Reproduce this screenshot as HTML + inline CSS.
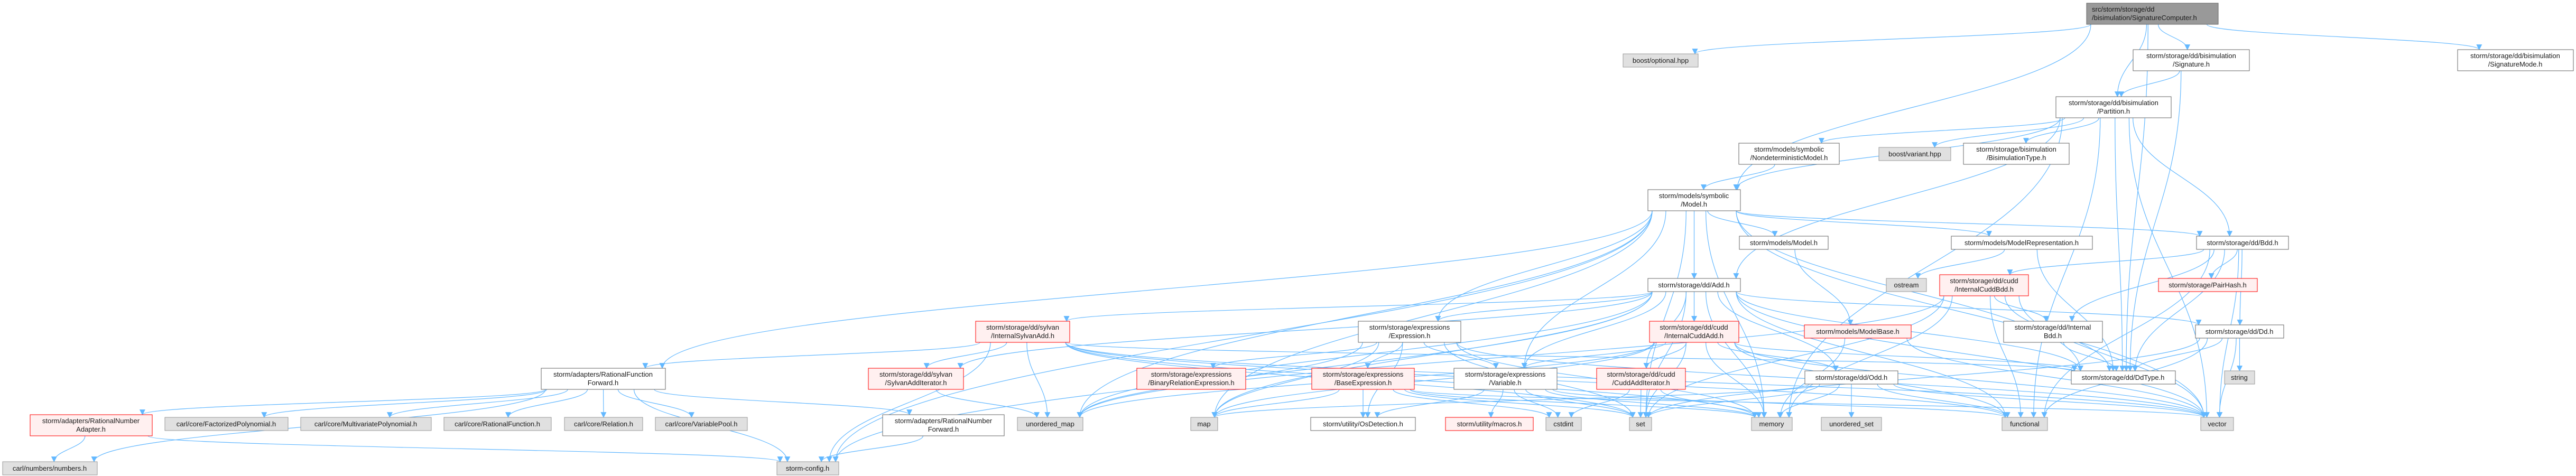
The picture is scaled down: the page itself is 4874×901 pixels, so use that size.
<!DOCTYPE html>
<html><head><meta charset="utf-8">
<style>
html,body{margin:0;padding:0;background:#fff;}
svg{display:block;}
text{font-family:"Liberation Sans",sans-serif;font-size:13px;fill:#1a1a1a;}
</style></head>
<body>
<svg id="g" width="4874" height="901" viewBox="0 0 4874 901" xmlns="http://www.w3.org/2000/svg">
<defs>
<marker id="ah" viewBox="0 0 10 10" refX="9" refY="5" markerWidth="11" markerHeight="11" markerUnits="userSpaceOnUse" orient="auto">
<path d="M0,0 L10,5 L0,10 z" fill="#63b8ff"/>
</marker>
</defs>
<g id="edges" fill="none" stroke="#63b8ff" stroke-width="1.2"></g>
<g id="nodes">
<rect x="3948" y="6" width="249" height="40" fill="#999" stroke="#666"/><text x="3958" y="22">src/storm/storage/dd</text><text x="3958" y="38">/bisimulation/SignatureComputer.h</text>
<rect x="4036" y="94" width="220" height="40" fill="#fff" stroke="#666"/><text x="4146" y="110" text-anchor="middle">storm/storage/dd/bisimulation</text><text x="4146" y="126" text-anchor="middle">/Signature.h</text>
<rect x="4650" y="94" width="219" height="40" fill="#fff" stroke="#666"/><text x="4759" y="110" text-anchor="middle">storm/storage/dd/bisimulation</text><text x="4759" y="126" text-anchor="middle">/SignatureMode.h</text>
<rect x="3071" y="102" width="142" height="25" fill="#e0e0e0" stroke="#999"/><text x="3142" y="119" text-anchor="middle">boost/optional.hpp</text>
<rect x="3890" y="183" width="218" height="40" fill="#fff" stroke="#666"/><text x="3999" y="199" text-anchor="middle">storm/storage/dd/bisimulation</text><text x="3999" y="215" text-anchor="middle">/Partition.h</text>
<rect x="3290" y="271" width="190" height="40" fill="#fff" stroke="#666"/><text x="3385" y="287" text-anchor="middle">storm/models/symbolic</text><text x="3385" y="303" text-anchor="middle">/NondeterministicModel.h</text>
<rect x="3555" y="279" width="136" height="25" fill="#e0e0e0" stroke="#999"/><text x="3623" y="296" text-anchor="middle">boost/variant.hpp</text>
<rect x="3715" y="271" width="200" height="40" fill="#fff" stroke="#666"/><text x="3815" y="287" text-anchor="middle">storm/storage/bisimulation</text><text x="3815" y="303" text-anchor="middle">/BisimulationType.h</text>
<rect x="3118" y="359" width="175" height="40" fill="#fff" stroke="#666"/><text x="3205" y="375" text-anchor="middle">storm/models/symbolic</text><text x="3205" y="391" text-anchor="middle">/Model.h</text>
<rect x="3291" y="447" width="168" height="25" fill="#fff" stroke="#666"/><text x="3375" y="464" text-anchor="middle">storm/models/Model.h</text>
<rect x="3692" y="447" width="267" height="25" fill="#fff" stroke="#666"/><text x="3825" y="464" text-anchor="middle">storm/models/ModelRepresentation.h</text>
<rect x="4156" y="447" width="174" height="25" fill="#fff" stroke="#666"/><text x="4243" y="464" text-anchor="middle">storm/storage/dd/Bdd.h</text>
<rect x="3118" y="527" width="175" height="25" fill="#fff" stroke="#666"/><text x="3205" y="544" text-anchor="middle">storm/storage/dd/Add.h</text>
<rect x="3569" y="527" width="76" height="25" fill="#e0e0e0" stroke="#999"/><text x="3607" y="544" text-anchor="middle">ostream</text>
<rect x="3670" y="520" width="168" height="40" fill="#fff0f0" stroke="#f00"/><text x="3754" y="536" text-anchor="middle">storm/storage/dd/cudd</text><text x="3754" y="552" text-anchor="middle">/InternalCuddBdd.h</text>
<rect x="4084" y="527" width="187" height="25" fill="#fff0f0" stroke="#f00"/><text x="4177" y="544" text-anchor="middle">storm/storage/PairHash.h</text>
<rect x="1846" y="608" width="178" height="40" fill="#fff0f0" stroke="#f00"/><text x="1935" y="624" text-anchor="middle">storm/storage/dd/sylvan</text><text x="1935" y="640" text-anchor="middle">/InternalSylvanAdd.h</text>
<rect x="2570" y="608" width="194" height="40" fill="#fff" stroke="#666"/><text x="2667" y="624" text-anchor="middle">storm/storage/expressions</text><text x="2667" y="640" text-anchor="middle">/Expression.h</text>
<rect x="3121" y="608" width="169" height="40" fill="#fff0f0" stroke="#f00"/><text x="3205" y="624" text-anchor="middle">storm/storage/dd/cudd</text><text x="3205" y="640" text-anchor="middle">/InternalCuddAdd.h</text>
<rect x="3414" y="615" width="202" height="25" fill="#fff0f0" stroke="#f00"/><text x="3515" y="632" text-anchor="middle">storm/models/ModelBase.h</text>
<rect x="3791" y="608" width="187" height="40" fill="#fff" stroke="#666"/><text x="3884" y="624" text-anchor="middle">storm/storage/dd/Internal</text><text x="3884" y="640" text-anchor="middle">Bdd.h</text>
<rect x="4154" y="615" width="167" height="25" fill="#fff" stroke="#666"/><text x="4237" y="632" text-anchor="middle">storm/storage/dd/Dd.h</text>
<rect x="1024" y="697" width="235" height="40" fill="#fff" stroke="#666"/><text x="1141" y="713" text-anchor="middle">storm/adapters/RationalFunction</text><text x="1141" y="729" text-anchor="middle">Forward.h</text>
<rect x="1643" y="697" width="180" height="40" fill="#fff0f0" stroke="#f00"/><text x="1733" y="713" text-anchor="middle">storm/storage/dd/sylvan</text><text x="1733" y="729" text-anchor="middle">/SylvanAddIterator.h</text>
<rect x="2151" y="697" width="206" height="40" fill="#fff0f0" stroke="#f00"/><text x="2254" y="713" text-anchor="middle">storm/storage/expressions</text><text x="2254" y="729" text-anchor="middle">/BinaryRelationExpression.h</text>
<rect x="2482" y="697" width="194" height="40" fill="#fff0f0" stroke="#f00"/><text x="2579" y="713" text-anchor="middle">storm/storage/expressions</text><text x="2579" y="729" text-anchor="middle">/BaseExpression.h</text>
<rect x="2751" y="697" width="195" height="40" fill="#fff" stroke="#666"/><text x="2848" y="713" text-anchor="middle">storm/storage/expressions</text><text x="2848" y="729" text-anchor="middle">/Variable.h</text>
<rect x="3021" y="697" width="168" height="40" fill="#fff0f0" stroke="#f00"/><text x="3105" y="713" text-anchor="middle">storm/storage/dd/cudd</text><text x="3105" y="729" text-anchor="middle">/CuddAddIterator.h</text>
<rect x="3415" y="702" width="176" height="25" fill="#fff" stroke="#666"/><text x="3503" y="719" text-anchor="middle">storm/storage/dd/Odd.h</text>
<rect x="3919" y="702" width="197" height="25" fill="#fff" stroke="#666"/><text x="4017" y="719" text-anchor="middle">storm/storage/dd/DdType.h</text>
<rect x="4209" y="702" width="57" height="25" fill="#e0e0e0" stroke="#999"/><text x="4237" y="719" text-anchor="middle">string</text>
<rect x="57" y="785" width="231" height="40" fill="#fff0f0" stroke="#f00"/><text x="172" y="801" text-anchor="middle">storm/adapters/RationalNumber</text><text x="172" y="817" text-anchor="middle">Adapter.h</text>
<rect x="312" y="790" width="233" height="25" fill="#e0e0e0" stroke="#999"/><text x="428" y="807" text-anchor="middle">carl/core/FactorizedPolynomial.h</text>
<rect x="569" y="790" width="247" height="25" fill="#e0e0e0" stroke="#999"/><text x="692" y="807" text-anchor="middle">carl/core/MultivariatePolynomial.h</text>
<rect x="840" y="790" width="203" height="25" fill="#e0e0e0" stroke="#999"/><text x="941" y="807" text-anchor="middle">carl/core/RationalFunction.h</text>
<rect x="1068" y="790" width="148" height="25" fill="#e0e0e0" stroke="#999"/><text x="1142" y="807" text-anchor="middle">carl/core/Relation.h</text>
<rect x="1240" y="790" width="174" height="25" fill="#e0e0e0" stroke="#999"/><text x="1327" y="807" text-anchor="middle">carl/core/VariablePool.h</text>
<rect x="1670" y="785" width="230" height="40" fill="#fff" stroke="#666"/><text x="1785" y="801" text-anchor="middle">storm/adapters/RationalNumber</text><text x="1785" y="817" text-anchor="middle">Forward.h</text>
<rect x="1925" y="790" width="124" height="25" fill="#e0e0e0" stroke="#999"/><text x="1987" y="807" text-anchor="middle">unordered_map</text>
<rect x="2253" y="790" width="51" height="25" fill="#e0e0e0" stroke="#999"/><text x="2278" y="807" text-anchor="middle">map</text>
<rect x="2480" y="790" width="198" height="25" fill="#fff" stroke="#666"/><text x="2579" y="807" text-anchor="middle">storm/utility/OsDetection.h</text>
<rect x="2735" y="790" width="166" height="25" fill="#fff0f0" stroke="#f00"/><text x="2818" y="807" text-anchor="middle">storm/utility/macros.h</text>
<rect x="2925" y="790" width="67" height="25" fill="#e0e0e0" stroke="#999"/><text x="2958" y="807" text-anchor="middle">cstdint</text>
<rect x="3083" y="790" width="42" height="25" fill="#e0e0e0" stroke="#999"/><text x="3104" y="807" text-anchor="middle">set</text>
<rect x="3314" y="790" width="77" height="25" fill="#e0e0e0" stroke="#999"/><text x="3352" y="807" text-anchor="middle">memory</text>
<rect x="3446" y="790" width="114" height="25" fill="#e0e0e0" stroke="#999"/><text x="3503" y="807" text-anchor="middle">unordered_set</text>
<rect x="3788" y="790" width="86" height="25" fill="#e0e0e0" stroke="#999"/><text x="3831" y="807" text-anchor="middle">functional</text>
<rect x="4164" y="790" width="62" height="25" fill="#e0e0e0" stroke="#999"/><text x="4195" y="807" text-anchor="middle">vector</text>
<rect x="5" y="874" width="179" height="25" fill="#e0e0e0" stroke="#999"/><text x="94" y="891" text-anchor="middle">carl/numbers/numbers.h</text>
<rect x="1470" y="874" width="117" height="25" fill="#e0e0e0" stroke="#999"/><text x="1528" y="891" text-anchor="middle">storm-config.h</text>
</g>
</svg>
<script>
var N={root:[3948,6,4197,46],sig:[4036,94,4256,134],sigmode:[4650,94,4869,134],optional:[3071,102,3213,127],
partition:[3890,183,4108,223],nondet:[3290,271,3480,311],variant:[3555,279,3691,304],bisim:[3715,271,3915,311],
smodel:[3118,359,3293,399],mmodel:[3291,447,3459,472],modelrep:[3692,447,3959,472],bdd:[4156,447,4330,472],
add:[3118,527,3293,552],ostream:[3569,527,3645,552],icbdd:[3670,520,3838,560],pairhash:[4084,527,4271,552],
isadd:[1846,608,2024,648],expr:[2570,608,2764,648],icadd:[3121,608,3290,648],modelbase:[3414,615,3616,640],
ibdd:[3791,608,3978,648],dd:[4154,615,4321,640],rff:[1024,697,1259,737],sai:[1643,697,1823,737],
bre:[2151,697,2357,737],base:[2482,697,2676,737],vari:[2751,697,2946,737],cai:[3021,697,3189,737],
odd:[3415,702,3591,727],ddtype:[3919,702,4116,727],string:[4209,702,4266,727],rna:[57,785,288,825],
fp:[312,790,545,815],mp:[569,790,816,815],rf:[840,790,1043,815],rel:[1068,790,1216,815],vp:[1240,790,1414,815],
rnf:[1670,785,1900,825],umap:[1925,790,2049,815],map:[2253,790,2304,815],os:[2480,790,2678,815],
macros:[2735,790,2901,815],cstdint:[2925,790,2992,815],set:[3083,790,3125,815],memory:[3314,790,3391,815],
uset:[3446,790,3560,815],functional:[3788,790,3874,815],vector:[4164,790,4226,815],numbers:[5,874,184,899],config:[1470,874,1587,899]};
var E=[
["root","optional"],["root","smodel"],["root","sig"],["root","partition"],["root","sigmode"],["root","ddtype"],
["sig","partition"],["sig","ddtype"],
["partition","variant"],["partition","bisim"],["partition","nondet"],["partition","smodel"],["partition","add"],["partition","bdd"],["partition","ddtype"],["partition","vector"],["partition","functional"],["partition","memory"],
["nondet","smodel"],
["smodel","rff"],["smodel","config"],["smodel","umap"],["smodel","expr"],["smodel","vari"],["smodel","set"],["smodel","memory"],["smodel","add"],["smodel","mmodel"],["smodel","modelrep"],["smodel","bdd"],["smodel","ddtype"],["smodel","vector"],["smodel","map"],
["mmodel","modelbase"],["modelbase","memory"],["modelbase","vector"],
["modelrep","ddtype"],["modelrep","ostream"],
["add","icadd"],["add","isadd"],["add","odd"],["add","expr"],["add","vari"],["add","memory"],["add","ddtype"],["add","dd"],["add","map"],["add","umap"],["add","config"],["add","functional"],["add","set"],["add","sai"],["add","cai"],["add","vector"],
["bdd","icbdd"],["bdd","pairhash"],["bdd","dd"],["bdd","ibdd"],["bdd","ddtype"],["bdd","vector"],["bdd","functional"],
["icbdd","ibdd"],["icbdd","ddtype"],["icbdd","functional"],["icbdd","memory"],["icbdd","set"],["icbdd","umap"],["icbdd","vector"],
["dd","ddtype"],["dd","string"],["dd","vector"],["dd","functional"],["dd","set"],
["ibdd","ddtype"],
["icadd","cai"],["icadd","odd"],["icadd","vari"],["icadd","memory"],["icadd","set"],["icadd","map"],["icadd","umap"],["icadd","ddtype"],["icadd","functional"],["icadd","vector"],
["isadd","sai"],["isadd","rff"],["isadd","umap"],["isadd","config"],["isadd","ddtype"],["isadd","memory"],["isadd","set"],["isadd","functional"],["isadd","vector"],
["sai","umap"],
["expr","base"],["expr","vari"],["expr","bre"],["expr","map"],["expr","os"],["expr","set"],["expr","memory"],["expr","umap"],["expr","vector"],
["base","os"],["base","set"],["base","memory"],["base","cstdint"],["base","vector"],["base","map"],
["vari","os"],["vari","macros"],["vari","cstdint"],["vari","memory"],["vari","set"],["vari","functional"],
["cai","cstdint"],["cai","set"],["cai","memory"],
["odd","memory"],["odd","uset"],["odd","map"],["odd","vector"],["odd","functional"],["odd","set"],
["rff","rna"],["rff","fp"],["rff","mp"],["rff","rf"],["rff","rel"],["rff","vp"],["rff","numbers"],["rff","config"],["rff","rnf"],
["rna","numbers"],["rna","config"],["rnf","config"]];
var g=document.getElementById("edges"),s="";
function cx(b){return (b[0]+b[2])/2;}
E.forEach(function(e){var a=N[e[0]],b=N[e[1]];if(!a||!b)return;
var d;
if(b[1]>a[3]-2){var sx=Math.max(a[0]+8,Math.min(a[2]-8,cx(a)+(cx(b)-cx(a))*0.15));var sy=a[3];
var tx=Math.max(b[0]+6,Math.min(b[2]-6,cx(b)+(cx(a)-cx(b))*0.1));var ty=b[1];var dy=ty-sy;
d="M"+sx+","+sy+" C"+sx+","+(sy+dy*0.45)+" "+tx+","+(ty-dy*0.45)+" "+tx+","+ty;}
else{var left=cx(b)<cx(a);var sx=left?a[0]:a[2],sy=(a[1]+a[3])/2,tx=left?b[2]:b[0],ty=(b[1]+b[3])/2;
d="M"+sx+","+sy+" C"+((sx+tx)/2)+","+sy+" "+((sx+tx)/2)+","+ty+" "+tx+","+ty;}
s+='<path d="'+d+'" marker-end="url(#ah)"/>';});
g.innerHTML=s;
</script>
</body></html>
